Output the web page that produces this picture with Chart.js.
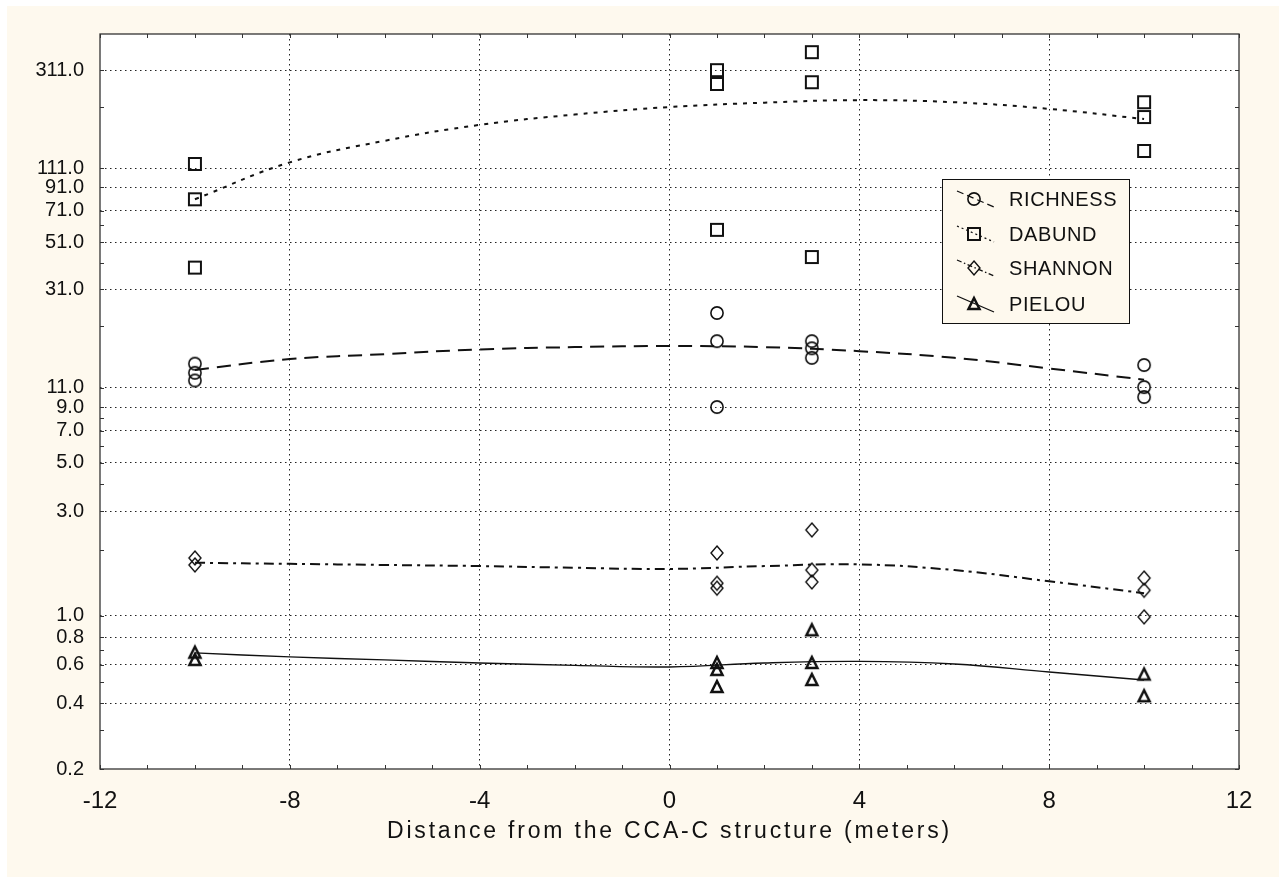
<!DOCTYPE html>
<html>
<head>
<meta charset="utf-8">
<script src="https://cdn.jsdelivr.net/npm/chart.js@4.4.0/dist/chart.umd.min.js"></script>
<style>
  html, body { margin: 0; padding: 0; background: #fff; }
</style>
</head>
<body>
<canvas id="chart" width="1279" height="877"></canvas>
<script>
// Sampled points (distance in meters, value)
const richX = [-10, -10, -10, 1, 1, 1, 3, 3, 3, 10, 10, 10];
const richY = [14.2, 12.9, 11.9, 24.2, 18.0, 9.0, 18.0, 16.7, 15.1, 14.0, 11.1, 10.0];
const dabX = [-10, -10, -10, 1, 1, 1, 3, 3, 3, 10, 10, 10];
const dabY = [116, 80, 39, 311, 269, 58, 376, 274, 43.6, 222, 190, 133];
const shanX = [-10, -10, 1, 1, 1, 3, 3, 3, 10, 10, 10];
const shanY = [1.84, 1.71, 1.94, 1.41, 1.34, 2.47, 1.62, 1.43, 1.49, 1.31, 0.99];
const pielX = [-10, -10, 1, 1, 1, 3, 3, 3, 10, 10];
const pielY = [0.68, 0.63, 0.61, 0.567, 0.474, 0.86, 0.61, 0.51, 0.54, 0.43];

// Fitted curves
const fitX = [-10, -8, -6, -4, -2, 0, 2, 4, 6, 8, 10];
const richFit = [13.3, 14.9, 15.7, 16.5, 16.9, 17.1, 16.9, 16.2, 15.1, 13.5, 12.0];
const dabFit = [80, 118, 148, 175, 195, 211, 221, 227, 222, 207, 186];
const shanFit = [1.75, 1.73, 1.71, 1.69, 1.66, 1.64, 1.69, 1.72, 1.62, 1.44, 1.27];
const pielFit = [0.678, 0.65, 0.63, 0.61, 0.595, 0.585, 0.61, 0.62, 0.603, 0.555, 0.51];

// Axis ticks
const yLabels = [0.2, 0.4, 0.6, 0.8, 1, 3, 5, 7, 9, 11, 31, 51, 71, 91, 111, 311];
const yMinor = [0.3, 0.5, 0.7, 2, 4, 6, 8, 21, 41, 61, 211];
const xLabels = [-12, -8, -4, 0, 4, 8, 12];
const xMinor = [-11, -10, -9, -7, -6, -5, -3, -2, -1, 1, 2, 3, 5, 6, 7, 9, 10, 11];
const xTitle = 'Distance from the CCA-C structure (meters)';

const FONT = "'Liberation Sans', Arial, sans-serif";
const INK = '#111';
const CREAM = '#fef9ee';

// Marker images
function makeMarker(kind) {
    const c = document.createElement('canvas');
    c.width = 20; c.height = 20;
    const g = c.getContext('2d');
    g.strokeStyle = INK;
    g.beginPath();
    if (kind === 'circle') {
        g.lineWidth = 1.6;
        g.arc(10, 10, 6.1, 0, Math.PI * 2);
    } else if (kind === 'square') {
        g.lineWidth = 2;
        g.rect(4, 4, 12, 12);
    } else if (kind === 'diamond') {
        g.lineWidth = 1.4;
        g.moveTo(10, 3); g.lineTo(16, 10); g.lineTo(10, 17); g.lineTo(4, 10);
        g.closePath();
    } else {
        g.lineWidth = 2.5;
        g.lineJoin = 'miter';
        g.moveTo(10, 4); g.lineTo(15.5, 15); g.lineTo(4.5, 15);
        g.closePath();
    }
    g.stroke();
    return c;
}

const markers = {
    circle: makeMarker('circle'),
    square: makeMarker('square'),
    diamond: makeMarker('diamond'),
    triangle: makeMarker('triangle')
};

const series = [
    { label: 'RICHNESS', xs: richX, ys: richY, fit: richFit, marker: markers.circle, dash: [14, 8], width: 2 },
    { label: 'DABUND', xs: dabX, ys: dabY, fit: dabFit, marker: markers.square, dash: [4, 6], width: 2 },
    { label: 'SHANNON', xs: shanX, ys: shanY, fit: shanFit, marker: markers.diamond, dash: [10, 5, 3, 5], width: 2 },
    { label: 'PIELOU', xs: pielX, ys: pielY, fit: pielFit, marker: markers.triangle, dash: [], width: 1.4 }
];

const pointSets = series.map(s => ({
    label: s.label,
    data: s.xs.map((x, i) => ({ x: x, y: s.ys[i] })),
    pointStyle: s.marker,
    pointRadius: 6,
    showLine: false
}));

const fitSets = series.map(s => ({
    label: s.label + ' fit',
    data: fitX.map((x, i) => ({ x: x, y: s.fit[i] })),
    showLine: true,
    pointRadius: 0,
    borderColor: INK,
    borderWidth: s.width,
    borderDash: s.dash,
    tension: 0.4,
    fill: false
}));

// Background, frame, inward ticks, axis title and legend box
const framePlugin = {
    id: 'frame',
    beforeDraw(chart) {
        const { ctx, chartArea: a } = chart;
        ctx.save();
        ctx.fillStyle = '#fff';
        ctx.fillRect(0, 0, chart.width, chart.height);
        ctx.fillStyle = CREAM;
        ctx.fillRect(7, 6, chart.width - 7, chart.height - 6);
        ctx.fillStyle = '#fff';
        ctx.fillRect(a.left, a.top, a.right - a.left, a.bottom - a.top);
        ctx.restore();
    },
    afterDraw(chart) {
        const { ctx, chartArea: a, scales } = chart;
        ctx.save();
        ctx.strokeStyle = '#333';
        ctx.lineWidth = 1.3;
        ctx.strokeRect(a.left, a.top, a.right - a.left, a.bottom - a.top);

        // inward tick marks on all four sides
        ctx.lineWidth = 1;
        ctx.beginPath();
        xLabels.concat(xMinor).forEach(v => {
            const px = Math.round(scales.x.getPixelForValue(v)) + 0.5;
            ctx.moveTo(px, a.bottom); ctx.lineTo(px, a.bottom - 4);
            ctx.moveTo(px, a.top); ctx.lineTo(px, a.top + 4);
        });
        yLabels.concat(yMinor).forEach(v => {
            const py = Math.round(scales.y.getPixelForValue(v)) + 0.5;
            ctx.moveTo(a.left, py); ctx.lineTo(a.left + 4, py);
            ctx.moveTo(a.right, py); ctx.lineTo(a.right - 4, py);
        });
        ctx.stroke();

        // x axis title, spaced out like the original
        ctx.fillStyle = INK;
        ctx.font = '23px ' + FONT;
        ctx.letterSpacing = '2.8px';
        ctx.textAlign = 'center';
        ctx.textBaseline = 'middle';
        ctx.fillText(xTitle, (a.left + a.right) / 2, 832);

        // legend
        const box = { x: 942.5, y: 179.5, w: 187, h: 144 };
        const rows = [199, 234, 268, 304];
        ctx.fillStyle = CREAM;
        ctx.fillRect(box.x, box.y, box.w, box.h);
        ctx.strokeStyle = INK;
        ctx.lineWidth = 1;
        ctx.strokeRect(box.x, box.y, box.w, box.h);
        ctx.font = '20px ' + FONT;
        ctx.textBaseline = 'middle';
        ctx.textAlign = 'left';
        ctx.letterSpacing = '0.6px';
        series.forEach((s, i) => {
            const y = rows[i];
            ctx.beginPath();
            ctx.setLineDash(s.dash.length ? s.dash.map(d => d * 0.5) : []);
            ctx.lineWidth = 1.3;
            ctx.moveTo(957, y - 8);
            ctx.lineTo(994, y + 8);
            ctx.stroke();
            ctx.setLineDash([]);
            ctx.drawImage(s.marker, 974 - 10, y - 10);
            ctx.fillStyle = INK;
            ctx.fillText(s.label, 1009, y + 1);
        });
        ctx.restore();
    }
};

new Chart(document.getElementById('chart'), {
    type: 'scatter',
    data: { datasets: pointSets.concat(fitSets) },
    options: {
        responsive: false,
        animation: false,
        devicePixelRatio: 1,
        layout: { padding: { left: 7, top: 34, right: 40, bottom: 0 } },
        plugins: {
            legend: { display: false },
            tooltip: { enabled: false }
        },
        scales: {
            x: {
                type: 'linear',
                min: -12,
                max: 12,
                afterBuildTicks: s => { s.ticks = xLabels.map(v => ({ value: v })); },
                afterFit: s => { s.height = 108; },
                ticks: {
                    autoSkip: false,
                    maxRotation: 0,
                    padding: 18,
                    color: INK,
                    font: { family: FONT, size: 24 },
                    callback: v => String(v)
                },
                grid: {
                    drawTicks: false,
                    lineWidth: 1,
                    color: c => (c.tick && Math.abs(c.tick.value) === 12) ? 'rgba(0,0,0,0)' : '#222'
                },
                border: { display: false, dash: [1.5, 3.5] }
            },
            y: {
                type: 'logarithmic',
                min: 0.2,
                max: 455,
                afterBuildTicks: s => { s.ticks = yLabels.map(v => ({ value: v })); },
                afterFit: s => { s.width = 93; },
                ticks: {
                    autoSkip: false,
                    padding: 16,
                    color: INK,
                    font: { family: FONT, size: 20 },
                    callback: v => Number(v).toFixed(1)
                },
                grid: {
                    drawTicks: false,
                    lineWidth: 1,
                    color: c => (c.tick && c.tick.value === 0.2) ? 'rgba(0,0,0,0)' : '#222'
                },
                border: { display: false, dash: [1.5, 3.5] }
            }
        }
    },
    plugins: [framePlugin]
});
</script>
</body>
</html>
